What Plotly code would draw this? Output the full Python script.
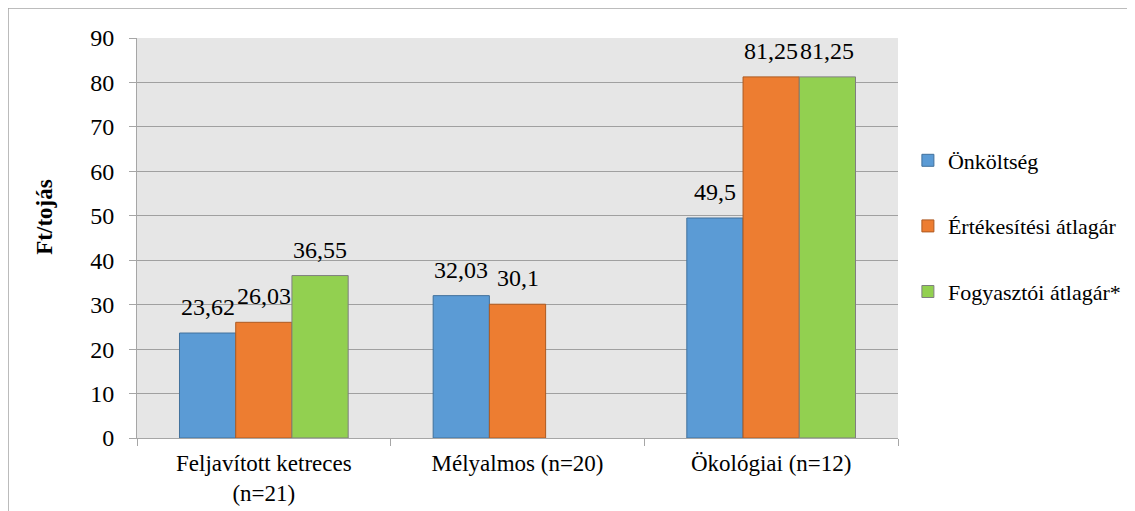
import plotly.graph_objects as go

categories = ["Feljavított ketreces<br>(n=21)", "Mélyalmos (n=20)", "Ökológiai (n=12)"]
onkoltseg = [23.62, 32.03, 49.5]
ertekesitesi = [26.03, 30.1, 81.25]
fogyasztoi = [36.55, None, 81.25]

series = [
    ("Önköltség", onkoltseg, "#5B9BD5", "#41719C"),
    ("Értékesítési átlagár", ertekesitesi, "#ED7D31", "#AE5A21"),
    ("Fogyasztói átlagár*", fogyasztoi, "#92D050", "#7F7F7F"),
]

FONT = "Times New Roman, Liberation Serif, DejaVu Serif, serif"
BARGAP = 0.335
PLOT_W = 761


def fmt(v):
    # magyar tizedesvessző
    if v is None:
        return ""
    return f"{v:g}".replace(".", ",")


fig = go.Figure()
for i, (name, vals, color, edge) in enumerate(series):
    fig.add_trace(go.Bar(
        x=categories,
        y=vals,
        name=name,
        legendgroup=f"g{i}",
        marker=dict(color=color, line=dict(color=edge, width=1)),
    ))

# adatfeliratok kicsit a oszlopok fölött (mint az Excelben)
bar_px = PLOT_W / len(categories) * (1 - BARGAP) / len(series)
for i, (name, vals, color, edge) in enumerate(series):
    for cat, v in zip(categories, vals):
        if v is None:
            continue
        fig.add_annotation(
            x=cat, y=v, text=fmt(v), showarrow=False,
            xanchor="center", yanchor="bottom",
            xshift=(i - 1) * bar_px, yshift=11,
            font=dict(family=FONT, size=24, color="#000000"),
        )

# tengelycím
fig.add_annotation(
    text="<b>Ft/tojás</b>", xref="paper", yref="paper",
    x=-0.121, y=0.553, textangle=-90, showarrow=False,
    xanchor="center", yanchor="middle",
    font=dict(family=FONT, size=23, color="#000000"),
)

# keret a diagram körül
fig.add_shape(
    type="rect", xref="paper", yref="paper",
    x0=-0.1695, y0=-0.5, x1=1.6, y1=1.075,
    line=dict(color="#A6A6A6", width=1.5),
    fillcolor="rgba(0,0,0,0)", layer="below",
)

# a HTML oldal 8px-es margóját levonva
fig.update_layout(
    width=1127,
    height=503,
    margin=dict(l=129, r=237, t=30, b=73, autoexpand=False),
    paper_bgcolor="white",
    plot_bgcolor="#E6E6E6",
    barmode="group",
    bargap=BARGAP,
    bargroupgap=0,
    font=dict(family=FONT, size=23, color="#000000"),
    showlegend=True,
    legend=dict(
        x=1.013, y=0.53, xanchor="left", yanchor="middle",
        tracegroupgap=34,
        font=dict(family=FONT, size=22, color="#000000"),
        itemwidth=30,
        bgcolor="rgba(0,0,0,0)",
    ),
    xaxis=dict(
        showline=True, linecolor="#A6A6A6", linewidth=1,
        ticks="outside", tickson="boundaries", ticklen=7, tickcolor="#A6A6A6",
        showgrid=False,
        tickfont=dict(family=FONT, size=23),
        ticklabelstandoff=4,
    ),
    yaxis=dict(
        range=[0, 90], dtick=10,
        showline=True, linecolor="#A6A6A6", linewidth=1,
        ticks="outside", ticklen=7, tickcolor="#A6A6A6",
        showgrid=True, gridcolor="#A0A0A0", gridwidth=1,
        zeroline=False,
        tickfont=dict(family=FONT, size=24),
        ticklabelstandoff=10,
    ),
)

fig.write_html("out.html")
